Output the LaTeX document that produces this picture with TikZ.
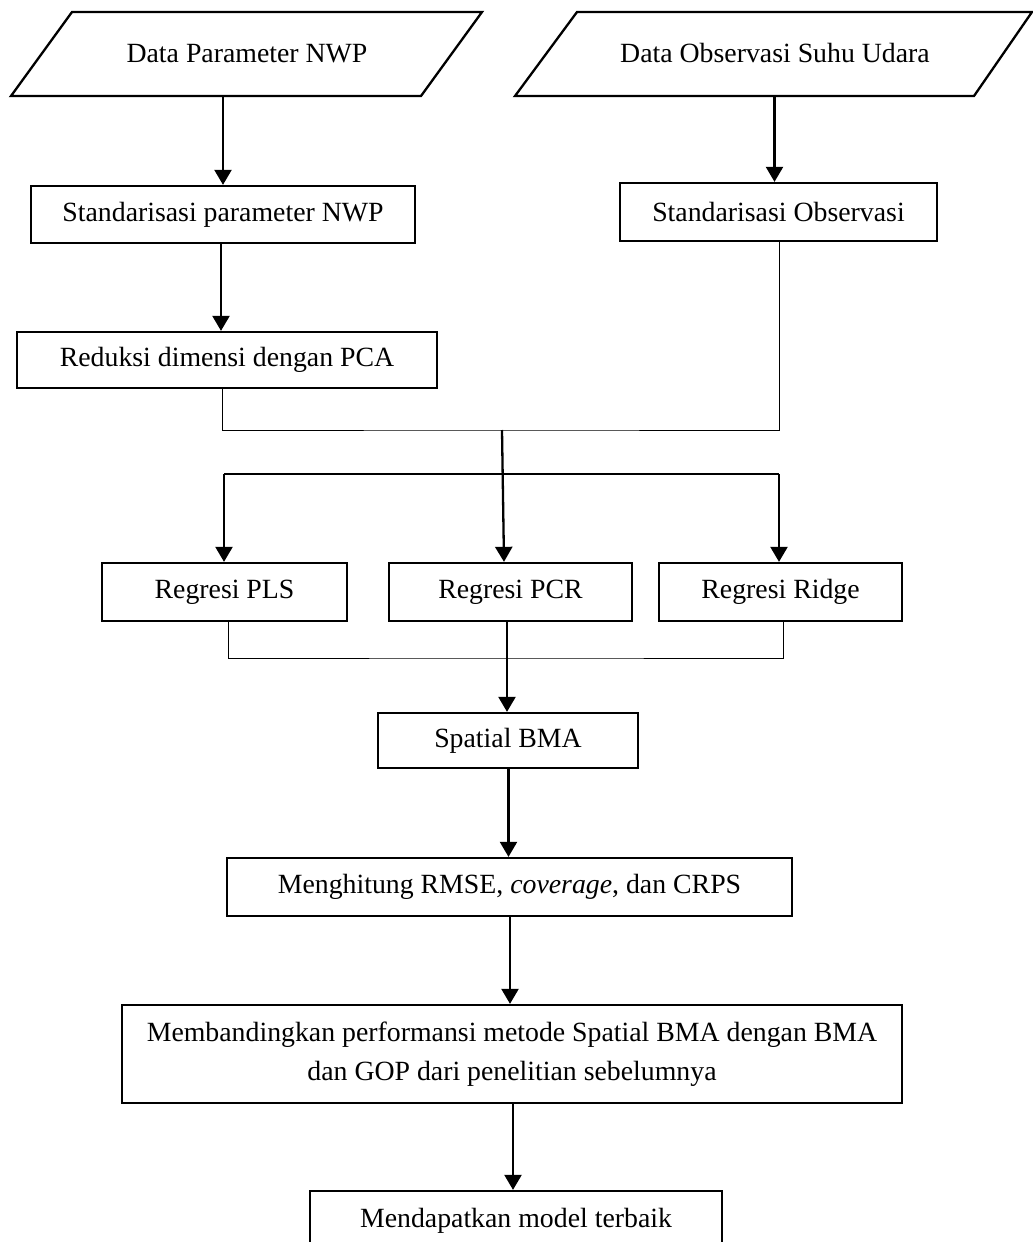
\documentclass[tikz,border=0pt]{standalone}
\usepackage{fontspec}
\setmainfont{Liberation Serif}
\usetikzlibrary{arrows.meta}
\begin{document}
\begin{tikzpicture}[x=1pt,y=-1pt,
  every node/.style={font=\fontsize{27.8}{39}\selectfont, inner sep=0pt},
  procbox/.style={draw, line width=2.3pt, minimum height=57pt, align=center},
  iolabel/.style={minimum height=84pt},
  flowarrow/.style={line width=2.3pt, -{Triangle[length=15pt,width=17pt]}},
  thinline/.style={line width=0.9pt},
  thickline/.style={line width=2.3pt}]
\useasboundingbox (0,0) rectangle (1033,1242);
\clip (0,0) rectangle (1033,1242);
% input parallelograms
\draw[line width=2.3pt] (72,12) -- (482,12) -- (421,96) -- (11,96) -- cycle;
\node[iolabel] (p1) at (247,54) {\raisebox{2pt}{Data Parameter NWP}};
\draw[line width=2.3pt] (577,12) -- (1032,12) -- (974,96) -- (515,96) -- cycle;
\node[iolabel] (p2) at (775,54) {\raisebox{2pt}{Data Observasi Suhu Udara}};
% process boxes
\node[procbox, minimum width=384pt] (b1) at (223,214.5) {Standarisasi parameter NWP};
\node[procbox, minimum width=420pt, minimum height=56pt] (b2) at (227,360) {Reduksi dimensi dengan PCA};
\node[procbox, minimum width=317pt, minimum height=58pt] (b3) at (778.5,212) {Standarisasi Observasi};
\node[procbox, minimum width=245pt, minimum height=58pt] (pls) at (224.5,592) {Regresi PLS};
\node[procbox, minimum width=243pt, minimum height=58pt] (pcr) at (510.5,592) {Regresi PCR};
\node[procbox, minimum width=243pt, minimum height=58pt] (ridge) at (780.5,592) {Regresi Ridge};
\node[procbox, minimum width=260pt, minimum height=55pt] (bma) at (508,740.5) {Spatial BMA};
\node[procbox, minimum width=565pt, minimum height=58pt] (hit) at (509.5,887) {Menghitung RMSE, \textit{coverage}, dan CRPS};
\node[procbox, minimum width=780pt, minimum height=98pt] (banding) at (512,1054) {Membandingkan performansi metode Spatial BMA dengan BMA\\dan GOP dari penelitian sebelumnya};
\node[procbox, minimum width=412pt, minimum height=60pt] (best) at (516,1221) {Mendapatkan model terbaik};
% junction coordinates
\coordinate (j1) at (502,430);
\coordinate (j2) at (504,474);
\coordinate (j3) at (507,658);
% connectors
\draw[flowarrow] ([xshift=-24pt]p1.south) -- (b1.north);
\draw[flowarrow] ([xshift=-2pt]b1.south) -- ([xshift=-6pt]b2.north);
\draw[flowarrow] ([xshift=-0.5pt]p2.south) -- ([xshift=-4pt]b3.north);
\draw[thinline] ([xshift=-5pt]b2.south) |- (j1) -| ([xshift=0.5pt]b3.south);
\draw[flowarrow] (j1) -- ([xshift=-6.5pt]pcr.north);
\draw[thickline] ([xshift=-0.5pt]pls.north |- j2) -- ([xshift=-1.5pt]ridge.north |- j2);
\draw[flowarrow] ([xshift=-0.5pt]pls.north |- j2) -- ([xshift=-0.5pt]pls.north);
\draw[flowarrow] ([xshift=-1.5pt]ridge.north |- j2) -- ([xshift=-1.5pt]ridge.north);
\draw[thinline] ([xshift=3.5pt]pls.south) |- (j3) -| ([xshift=2.5pt]ridge.south);
\draw[flowarrow] ([xshift=-3.5pt]pcr.south) -- ([xshift=-1pt]bma.north);
\draw[flowarrow] ([xshift=0.5pt]bma.south) -- ([xshift=-1pt]hit.north);
\draw[flowarrow] ([xshift=0.5pt]hit.south) -- ([xshift=-2pt]banding.north);
\draw[flowarrow] ([xshift=1pt]banding.south) -- ([xshift=-3pt]best.north);
\end{tikzpicture}
\end{document}
